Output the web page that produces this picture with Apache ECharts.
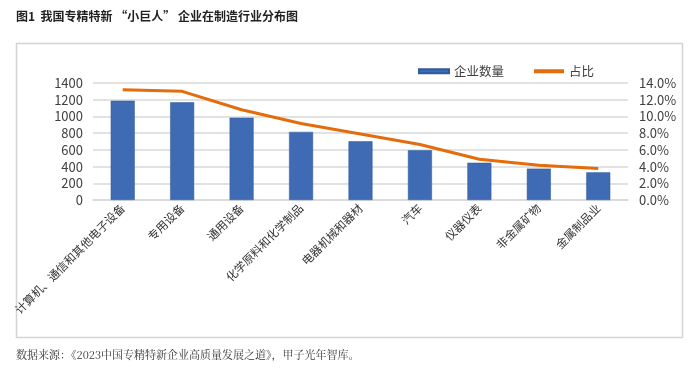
<!DOCTYPE html>
<html><head><meta charset="utf-8">
<script src="https://cdn.jsdelivr.net/npm/echarts@6/dist/echarts.min.js"></script>
<style>html,body{margin:0;padding:0;background:#fff}#c{width:697px;height:381px}</style>
</head><body><div id="c"></div>
<script>
const categories = ['计算机、通信和其他电子设备','专用设备','通用设备','化学原料和化学制品','电器机械和器材','汽车','仪器仪表','非金属矿物','金属制品业'];
const countValues = [1188, 1169, 985, 815, 703, 595, 446, 375, 331];
const shareValues = [0.132, 0.130, 0.108, 0.0915, 0.079, 0.0665, 0.0487, 0.0415, 0.0378];
const leftTicks = [0, 1400, 200];
const rightTicks = [0, 0.14, 0.02];
const FONT = '"Noto Sans CJK SC", "Noto Sans", sans-serif';
const chart = echarts.init(document.getElementById('c'), null, {renderer:'canvas'});
chart.setOption({
  animation:false,
  backgroundColor:'#fff',
  textStyle:{fontFamily:FONT},
  graphic:[
    {type:'rect', shape:{x:16.5,y:43.5,width:666,height:294}, style:{fill:'none',stroke:'#d4d4d4',lineWidth:1.5}},
    {type:'text', left:16, top:10, style:{text:'图1  我国专精特新 “小巨人” 企业在制造行业分布图', font:'bold 12px '+FONT, fill:'#222'}},
    {type:'text', left:16, top:349, style:{text:'数据来源：《2023中国专精特新企业高质量发展之道》，甲子光年智库。', font:'11px "Noto Serif CJK SC", '+FONT, fill:'#333'}}
  ],
  legend:{
    top:60, left:413, itemGap:30, itemWidth:30, itemHeight:4,
    textStyle:{fontSize:12.5,color:'#404040'},
    data:[{name:'企业数量',icon:'rect'},{name:'占比',icon:'rect'}]
  },
  grid:{left:93,right:69,top:83,bottom:181,containLabel:false},
  xAxis:{
    type:'category', data:categories,
    axisLine:{lineStyle:{color:'#d9d9d9',width:1.5}},
    axisTick:{show:false},
    axisLabel:{rotate:45,interval:0,fontSize:11.5,color:'#333',margin:6}
  },
  yAxis:[
    {type:'value',min:leftTicks[0],max:leftTicks[1],interval:leftTicks[2],
     axisLine:{show:false},axisTick:{show:false},
     axisLabel:{fontSize:13,color:'#404040',margin:10,formatter:v=>String(v)},
     splitLine:{lineStyle:{color:'#d9d9d9',width:1.5}}},
    {type:'value',min:rightTicks[0],max:rightTicks[1],interval:rightTicks[2],
     axisLine:{show:false},axisTick:{show:false},
     axisLabel:{fontSize:13,color:'#404040',margin:11,formatter:v=>(v*100).toFixed(1)+'%'},
     splitLine:{show:false}}
  ],
  series:[
    {name:'企业数量',type:'bar',data:countValues,barWidth:24,yAxisIndex:0,
     itemStyle:{color:'#3e6bb3',borderColor:'#2f5a9e',borderWidth:0.5}},
    {name:'占比',type:'line',data:shareValues,yAxisIndex:1,symbol:'none',
     lineStyle:{color:'#e46c0a',width:3},itemStyle:{color:'#e46c0a'}}
  ]
});
</script></body></html>
